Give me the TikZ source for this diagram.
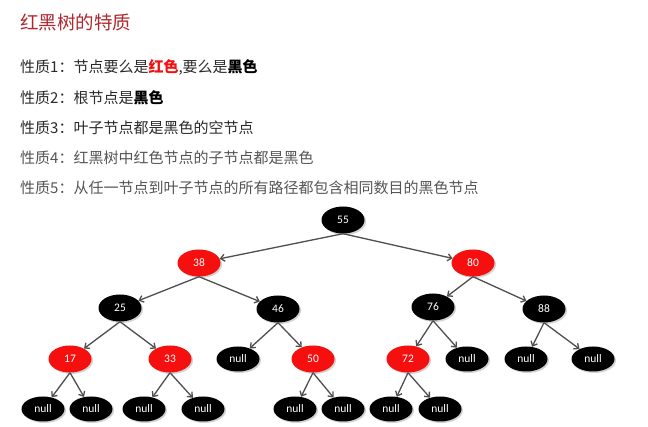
\documentclass[tikz,border=0pt]{standalone}
\usepackage{fontspec}
\setmainfont{Carlito}
\newfontfamily\cjk{Noto Sans CJK SC}
\usetikzlibrary{arrows.meta,shadows,shapes.geometric}
\definecolor{titlered}{HTML}{B0282E}
\definecolor{txtdark}{HTML}{2A2A2A}
\definecolor{txtgray}{HTML}{555555}
\definecolor{nodered}{HTML}{F50F0F}
\definecolor{edgegray}{HTML}{4F4F4F}
\tikzset{
  x=1pt,y=-1pt,
  rb/.style={ellipse,minimum width=43pt,minimum height=27pt,inner sep=0pt,
    font=\fontsize{11.5}{12}\selectfont,text=white,
    drop shadow={shadow xshift=1.5pt,shadow yshift=-1.5pt,opacity=0.35,fill=gray}},
  bn/.style={rb,fill=black},
  rn/.style={rb,fill=nodered},
  ln/.style={rb,fill=black,minimum height=25pt},
  edge/.style={draw=edgegray,line width=1.3pt,-{Straight Barb[length=4pt,width=7pt]}},
  prop/.style={anchor=west,font=\cjk\fontsize{15}{16}\selectfont,inner sep=0pt}
}
\begin{document}
\begin{tikzpicture}
\useasboundingbox[fill=white] (0,0) rectangle (648,427);
\node[anchor=west,inner sep=0pt,text=titlered,font=\cjk\fontsize{18.5}{20}\selectfont] (title) at (20,22) {红黑树的特质};
\node[prop,text=txtdark] (p1) at (20,67) {性质1：节点要么是{\bfseries\color{nodered}红色},要么是{\bfseries\color{black}黑色}};
\node[prop,text=txtdark] (p2) at (20,98) {性质2：根节点是{\bfseries\color{black}黑色}};
\node[prop,text=txtdark] (p3) at (20,128) {性质3：叶子节点都是黑色的空节点};
\node[prop,text=txtgray] (p4) at (20,158) {性质4：红黑树中红色节点的子节点都是黑色};
\node[prop,text=txtgray] (p5) at (20,188) {性质5：从任一节点到叶子节点的所有路径都包含相同数目的黑色节点};

\node[bn] (n55) at (343,220) {55};
\node[rn] (n38) at (199,263) {38};
\node[rn] (n80) at (473,263) {80};
\node[bn] (n25) at (120,308) {25};
\node[bn] (n46) at (278,309) {46};
\node[bn] (n76) at (433,307) {76};
\node[bn] (n88) at (544,309) {88};
\node[rn] (n17) at (70,359) {17};
\node[rn] (n33) at (170,359) {33};
\node[ln] (u1) at (238,359) {null};
\node[rn] (n50) at (313,359) {50};
\node[rn] (n72) at (408,359) {72};
\node[ln] (u2) at (467,359) {null};
\node[ln] (u3) at (526,359) {null};
\node[ln] (u4) at (593,359) {null};
\node[ln] (l1) at (43,409) {null};
\node[ln] (l2) at (91,409) {null};
\node[ln] (l3) at (144,409) {null};
\node[ln] (l4) at (203,409) {null};
\node[ln] (l5) at (295,409) {null};
\node[ln] (l6) at (343,409) {null};
\node[ln] (l7) at (391,409) {null};
\node[ln] (l8) at (440,409) {null};

\foreach \a/\b in {n55/n38,n55/n80,n38/n25,n38/n46,n80/n76,n80/n88,
  n25/n17,n25/n33,n46/u1,n46/n50,n76/n72,n76/u2,n88/u3,n88/u4,
  n17/l1,n17/l2,n33/l3,n33/l4,n50/l5,n50/l6,n72/l7,n72/l8}
  \draw[edge] (\a.south) -- (\b);
\end{tikzpicture}
\end{document}
